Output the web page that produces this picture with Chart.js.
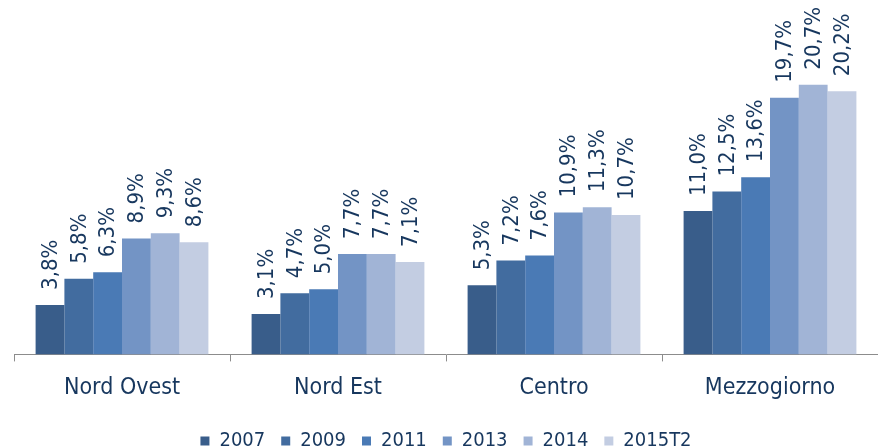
<!DOCTYPE html>
<html>
<head>
<meta charset="utf-8">
<script src="https://cdn.jsdelivr.net/npm/chart.js@4/dist/chart.umd.min.js"></script>
<style>
  html, body { margin: 0; padding: 0; background: #fff; }
  #wrap { width: 878px; height: 447px; }
</style>
</head>
<body>
<div id="wrap"><canvas id="myChart"></canvas></div>
<script>
const regioni = ['Nord Ovest', 'Nord Est', 'Centro', 'Mezzogiorno']
const anni = ['2007', '2009', '2011', '2013', '2014', '2015T2']
const v2007 = [3.8, 3.1, 5.3, 11.0]
const v2009 = [5.8, 4.7, 7.2, 12.5]
const v2011 = [6.3, 5.0, 7.6, 13.6]
const v2013 = [8.9, 7.7, 10.9, 19.7]
const v2014 = [9.3, 7.7, 11.3, 20.7]
const v2015T2 = [8.6, 7.1, 10.7, 20.2]
const colori = ['#395D8A', '#426C9F', '#4A7AB5', '#7394C5', '#A1B4D6', '#C3CDE2']

const serie = [v2007, v2009, v2011, v2013, v2014, v2015T2]
const testo = '#17375E'
const font = '"DejaVu Sans Condensed", "DejaVu Sans"'

// etichette ruotate sopra le barre
const etichette = {
    id: 'etichette',
    afterDatasetsDraw(chart) {
        const ctx = chart.ctx
        ctx.save()
        ctx.fillStyle = testo
        ctx.font = '22px ' + font
        ctx.textAlign = 'left'
        ctx.textBaseline = 'middle'
        chart.data.datasets.forEach((ds, i) => {
            chart.getDatasetMeta(i).data.forEach((bar, j) => {
                ctx.save()
                ctx.translate(bar.x + 1, bar.y - 15)
                ctx.rotate(-Math.PI / 2)
                ctx.fillText(ds.data[j].toFixed(1).replace('.', ',') + '%', 0, 0)
                ctx.restore()
            })
        })
        ctx.restore()
    }
}

let datasets = []
for (let i = 0; i < anni.length; i++) {
    datasets.push({
        label: anni[i],
        data: serie[i],
        backgroundColor: colori[i],
        borderWidth: 0,
        categoryPercentage: 0.8,
        barPercentage: 1.0
    })
}

new Chart(document.getElementById('myChart'), {
    type: 'bar',
    data: { labels: regioni, datasets: datasets },
    options: {
        responsive: true,
        maintainAspectRatio: false,
        animation: false,
        layout: { padding: { left: 14, right: 0, top: 0, bottom: -14 } },
        plugins: {
            tooltip: { enabled: false },
            legend: {
                position: 'bottom',
                labels: {
                    boxWidth: 9,
                    boxHeight: 9,
                    padding: 16,
                    color: testo,
                    font: { family: font, size: 20 }
                }
            }
        },
        scales: {
            x: {
                grid: {
                    offset: true,
                    drawOnChartArea: false,
                    drawTicks: true,
                    tickLength: 7,
                    color: '#8c8c8c'
                },
                border: { color: '#8c8c8c', width: 1 },
                ticks: {
                    color: testo,
                    padding: 13,
                    font: { family: font, size: 23 }
                }
            },
            y: {
                display: false,
                min: 0,
                max: 27.2
            }
        }
    },
    plugins: [etichette]
})
</script>
</body>
</html>
